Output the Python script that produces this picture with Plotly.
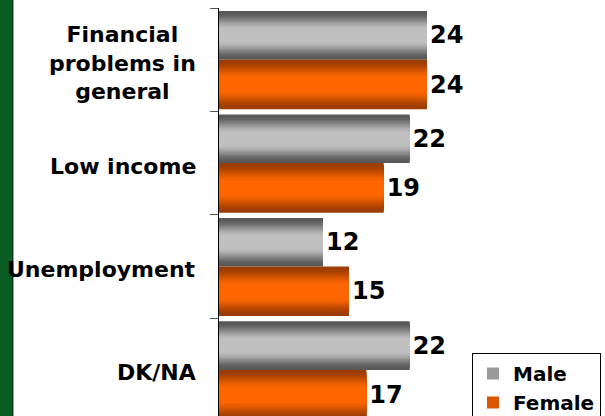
import plotly.graph_objects as go

# ---- data ----
categories = ["Financial problems in general", "Low income", "Unemployment", "DK/NA"]
category_labels = ["Financial<br>problems in<br>general", "Low income", "Unemployment", "DK/NA"]
male = [24, 22, 12, 22]
female = [24, 19, 15, 17]
series_names = ["Male", "Female"]

# ---- style ----
FONT = "DejaVu Sans"
N = 18


def mix(c1, c2, t):
    return "#%02x%02x%02x" % tuple(int(round(a + (b - a) * t)) for a, b in zip(c1, c2))


def profile(s):
    # colour ramp from edge (s=0) to centre (s=1)
    x = min(1.0, s / 0.8)
    return x * x * (3 - 2 * x)


fig = go.Figure()

series = [
    (series_names[0], male, -0.47, 0.47, (88, 88, 88), (192, 192, 192), 0.55),
    (series_names[1], female, 0.0, 0.48, (155, 60, 0), (255, 102, 0), 0.6),
]

for name, vals, off, W, dark, light, legend_t in series:
    legend_k = None
    for k in range(N):
        s = k / (N - 1)
        t = profile(s)
        if legend_k is None and t >= legend_t:
            legend_k = k
    for k in range(N):
        s = k / (N - 1)
        w = W * (1 - k / N)
        o = off + (W - w) / 2
        col = mix(dark, light, profile(s))
        fig.add_trace(go.Bar(
            y=categories, x=vals, orientation="h",
            width=w, offset=o,
            marker=dict(color=col, line=dict(width=0)),
            name=name,
            legendgroup=name,
            showlegend=(k == legend_k),
            hoverinfo="skip",
            text=[str(v) for v in vals] if k == 0 else None,
            textposition="outside" if k == 0 else "none",
            textfont=dict(family=FONT, size=24, color="black", weight="bold"),
            constraintext="none",
            cliponaxis=False,
        ))

for cat, lab in zip(categories, category_labels):
    fig.add_annotation(
        x=-0.054, xref="paper", y=cat, yref="y",
        text=lab, showarrow=False, xanchor="right", align="center",
        yshift=-3,
        font=dict(family=FONT, size=22, color="black", weight="bold"),
    )

# green band at left edge
fig.add_shape(type="rect", xref="paper", yref="paper",
              x0=-219 / 386, x1=-207 / 386, y0=-0.1, y1=1.1,
              fillcolor="#0b5c22", line=dict(width=0), layer="above")
fig.add_shape(type="rect", xref="paper", yref="paper",
              x0=-207 / 386, x1=-206 / 386, y0=-0.1, y1=1.1,
              fillcolor="#043a12", line=dict(width=0), layer="above")
fig.add_shape(type="rect", xref="paper", yref="paper",
              x0=-206 / 386, x1=-205 / 386, y0=-0.1, y1=1.1,
              fillcolor="#9aa89d", line=dict(width=0), layer="above")

fig.update_layout(
    width=605, height=416,
    margin=dict(l=219, r=0, t=8, b=0, autoexpand=False),
    paper_bgcolor="white", plot_bgcolor="white",
    barmode="overlay",
    font=dict(family=FONT, color="black"),
    showlegend=True,
    legend=dict(
        x=(472 - 219) / 386, xanchor="left",
        y=1 - (353 - 8) / 408, yanchor="top",
        bgcolor="white", bordercolor="black", borderwidth=1,
        font=dict(family=FONT, size=20, color="black", weight="bold"),
        traceorder="normal",
        entrywidth=160, entrywidthmode="pixels",
    ),
    xaxis=dict(range=[0, 44.54], visible=False, fixedrange=True),
    yaxis=dict(
        type="category", categoryorder="array", categoryarray=categories,
        range=[3.446, -0.5], fixedrange=True,
        showticklabels=False, showgrid=False, zeroline=False,
        showline=True, linecolor="black", linewidth=1,
        ticks="outside", tickson="boundaries", ticklen=8,
        tickcolor="#555555", tickwidth=1,
    ),
)

fig.write_html(
    "out.html",
    config={"displayModeBar": False},
    post_script="document.body.style.margin='0';document.body.style.overflow='hidden';",
)
